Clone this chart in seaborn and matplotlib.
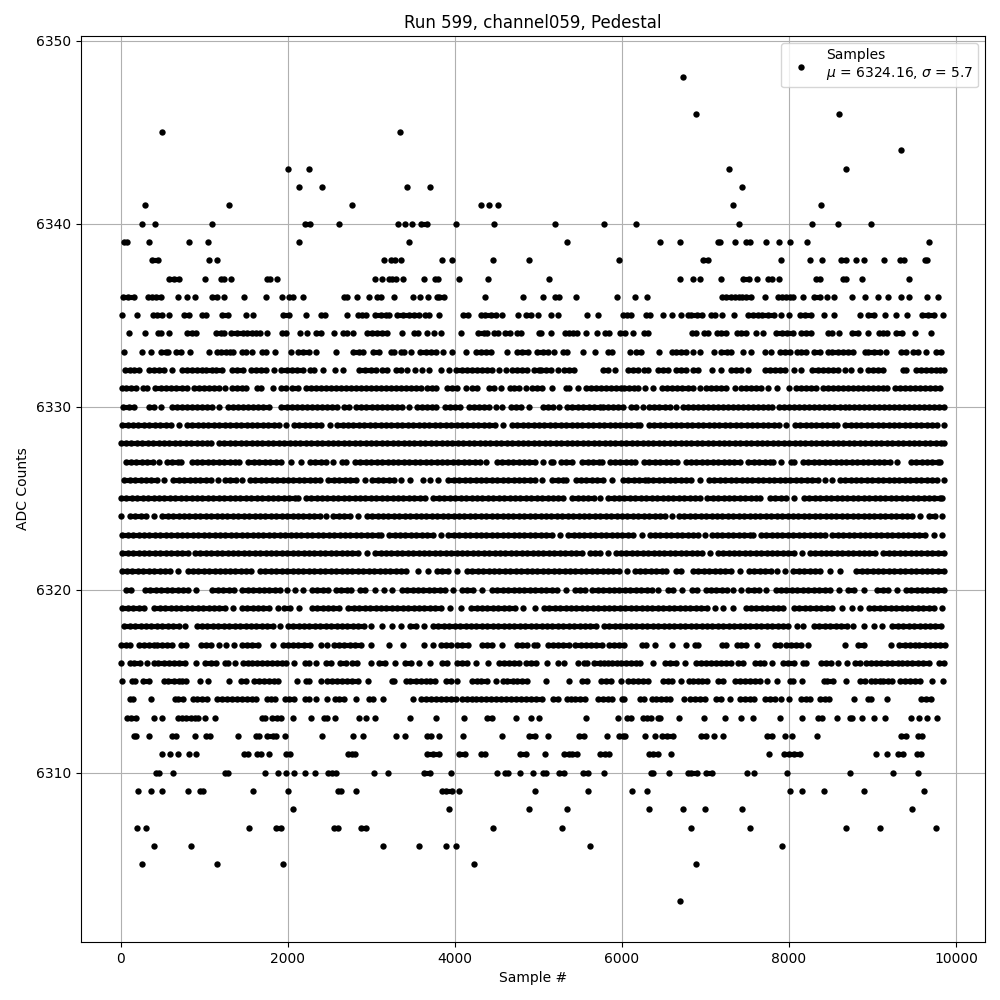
import pandas as pd
import matplotlib
matplotlib.use("Agg")
import matplotlib.pyplot as plt
import seaborn as sns

# sample numbers, one list per ADC level
s6348 = [6730]
s6346 = [6886, 8599]
s6345 = [499, 3349]
s6344 = [9341]
s6343 = [2008, 2259, 7281, 8683]
s6342 = [2140, 2415, 3433, 3709, 7437]
s6341 = [295, 1301, 2774, 4319, 4415, 4523, 7329, 8383]
s6340 = [259, 415, 1098, 2212, 2271, 2619, 3325, 3409, 3493, 3601, 3673, 4020, 4475, 5198, 5784, 6168, 7401, 8275, 8587, 8982]
s6339 = [44, 76, 343, 822, 1050, 2140, 3457, 5341, 6455, 6695, 7150, 7178, 7353, 7485, 7533, 7725, 7880, 8012, 8216, 9677]
s6338 = [371, 443, 1062, 1158, 3158, 3242, 3285, 3361, 3852, 3972, 4463, 4894, 5964, 6970, 7030, 7904, 8252, 8395, 8623, 8683, 8802, 8898, 9138, 9325, 9373, 9625, 9653]
s6337 = [583, 635, 703, 1014, 1206, 1242, 1325, 1756, 1792, 1876, 3042, 3134, 3218, 3253, 3301, 3385, 3637, 3764, 3800, 4056, 4403, 5126, 6695, 6850, 6934, 7186, 7449, 7521, 7617, 7749, 7796, 7880, 8323, 8371, 8647, 8683, 8874, 9437]
s6336 = [28, 92, 164, 331, 379, 427, 487, 691, 798, 894, 1098, 1158, 1242, 1481, 1744, 1936, 2016, 2068, 2188, 2679, 2715, 2834, 2978, 3074, 3122, 3277, 3505, 3589, 3685, 3784, 3812, 3876, 4359, 4822, 5054, 5198, 5246, 5449, 5940, 6156, 6299, 7198, 7246, 7305, 7353, 7401, 7433, 7485, 7545, 7713, 7868, 7916, 7964, 8012, 8048, 8168, 8299, 8371, 8455, 8539, 8754, 8910, 9066, 9186, 9341, 9437, 9653, 9784]
s6335 = [20, 200, 391, 439, 499, 583, 762, 818, 978, 1026, 1218, 1289, 1505, 1589, 1948, 2020, 2224, 2403, 2447, 2707, 2846, 2894, 2942, 3050, 3114, 3174, 3214, 3313, 3385, 3453, 3513, 3573, 3649, 3697, 3816, 4100, 4156, 4315, 4363, 4431, 4491, 4571, 4762, 4850, 4914, 4994, 5150, 5234, 5581, 5713, 6012, 6060, 6108, 6291, 6339, 6491, 6599, 6711, 6790, 6826, 6898, 6958, 7070, 7110, 7198, 7337, 7509, 7569, 7629, 7677, 7749, 7820, 7904, 8000, 8132, 8192, 8263, 8419, 8539, 8850, 8946, 9014, 9150, 9285, 9413, 9593, 9665, 9737, 9844]
s6334 = [104, 295, 451, 483, 583, 798, 858, 898, 1146, 1198, 1238, 1325, 1397, 1469, 1517, 1569, 1617, 1669, 1756, 1936, 1976, 2152, 2235, 2335, 2403, 2559, 2667, 2707, 2786, 2954, 3014, 3074, 3134, 3194, 3373, 3517, 3565, 3673, 3757, 3832, 4076, 4283, 4351, 4391, 4471, 4519, 4603, 4663, 4750, 4798, 5010, 5030, 5150, 5317, 5365, 5413, 5461, 5573, 5701, 5796, 5852, 5984, 6040, 6132, 6263, 6311, 6838, 6886, 6982, 7030, 7138, 7190, 7250, 7377, 7425, 7485, 7609, 7689, 7844, 7916, 7976, 8048, 8144, 8200, 8259, 8467, 8515, 8599, 8754, 8826, 8946, 9078, 9126, 9174, 9285, 9357, 9509, 9701]
s6333 = [44, 259, 359, 487, 539, 571, 659, 719, 834, 1058, 1158, 1206, 1257, 1305, 1349, 1457, 1497, 1577, 1697, 1745, 1848, 2044, 2124, 2188, 2255, 2335, 2575, 2786, 2854, 2902, 3026, 3094, 3233, 3273, 3353, 3393, 3481, 3585, 3653, 3713, 3773, 3860, 3972, 4140, 4251, 4311, 4371, 4431, 4631, 4743, 4810, 4882, 4990, 5062, 5114, 5194, 5293, 5341, 5533, 5677, 5832, 5884, 6096, 6172, 6231, 6451, 6603, 6651, 6711, 6770, 6850, 6930, 7102, 7186, 7258, 7309, 7449, 7549, 7713, 7788, 7896, 7948, 8008, 8096, 8148, 8208, 8299, 8367, 8467, 8519, 8587, 8647, 8707, 8766, 8906, 8946, 9014, 9086, 9166, 9345, 9405, 9485, 9545, 9637, 9757, 9824]
s6332 = [52, 108, 160, 220, 339, 399, 459, 519, 611, 739, 798, 858, 918, 978, 1026, 1098, 1146, 1210, 1337, 1397, 1465, 1557, 1617, 1677, 1737, 1836, 1924, 1996, 2056, 2116, 2184, 2263, 2315, 2427, 2567, 2667, 2854, 2922, 2994, 3054, 3134, 3194, 3293, 3353, 3433, 3529, 3613, 3693, 3832, 3932, 4020, 4092, 4152, 4211, 4271, 4331, 4391, 4451, 4531, 4611, 4691, 4750, 4810, 4870, 4950, 5010, 5034, 5094, 5154, 5234, 5313, 5373, 5433, 5772, 5832, 5916, 6072, 6132, 6192, 6271, 6311, 6431, 6491, 6551, 6651, 6711, 6770, 6850, 6910, 7082, 7182, 7305, 7369, 7429, 7509, 7709, 7768, 7828, 7888, 7952, 8060, 8148, 8279, 8347, 8407, 8467, 8527, 8587, 8667, 8742, 8850, 8946, 9006, 9066, 9126, 9365, 9405, 9525, 9585, 9645, 9705, 9765, 9812, 9860]
s6331 = [12, 68, 128, 188, 271, 319, 411, 479, 539, 599, 659, 731, 790, 878, 938, 998, 1058, 1118, 1178, 1253, 1329, 1389, 1449, 1497, 1629, 1685, 1820, 1920, 1976, 2056, 2128, 2216, 2275, 2335, 2395, 2455, 2515, 2575, 2635, 2695, 2755, 2814, 2874, 2934, 2994, 3054, 3114, 3174, 3233, 3293, 3353, 3413, 3473, 3533, 3593, 3673, 3733, 3780, 3912, 3972, 4032, 4132, 4211, 4271, 4411, 4471, 4551, 4659, 4711, 4770, 4850, 4930, 4990, 5046, 5162, 5333, 5373, 5473, 5573, 5633, 5693, 5752, 5812, 5872, 5932, 5992, 6032, 6092, 6140, 6192, 6283, 6371, 6483, 6543, 6603, 6663, 6723, 6790, 6850, 6930, 7010, 7070, 7130, 7190, 7250, 7353, 7429, 7489, 7549, 7609, 7669, 7749, 7856, 7996, 8088, 8148, 8208, 8267, 8327, 8407, 8467, 8527, 8587, 8647, 8707, 8766, 8826, 8886, 8946, 9006, 9066, 9126, 9174, 9266, 9325, 9385, 9445, 9505, 9565, 9625, 9685, 9745, 9812]
s6330 = [28, 100, 160, 339, 399, 479, 611, 679, 739, 798, 858, 918, 978, 1038, 1098, 1178, 1289, 1349, 1409, 1469, 1529, 1589, 1649, 1709, 1776, 1924, 1996, 2056, 2116, 2176, 2235, 2295, 2355, 2415, 2475, 2535, 2595, 2675, 2735, 2822, 2882, 2942, 3014, 3074, 3134, 3194, 3253, 3313, 3373, 3453, 3553, 3613, 3673, 3733, 3780, 3884, 3944, 4004, 4064, 4172, 4232, 4291, 4351, 4411, 4491, 4571, 4671, 4731, 4790, 4890, 5054, 5114, 5174, 5253, 5341, 5401, 5473, 5541, 5613, 5673, 5733, 5772, 5832, 5900, 5952, 6020, 6112, 6172, 6251, 6331, 6391, 6451, 6511, 6571, 6651, 6730, 6790, 6850, 6910, 6970, 7030, 7090, 7150, 7210, 7270, 7329, 7389, 7449, 7509, 7569, 7629, 7689, 7749, 7800, 7880, 7940, 8000, 8060, 8120, 8180, 8240, 8299, 8359, 8419, 8479, 8539, 8607, 8667, 8719, 8778, 8838, 8898, 8958, 9018, 9078, 9138, 9198, 9257, 9317, 9377, 9437, 9497, 9557, 9617, 9677, 9737, 9796, 9856]
s6329 = [20, 85, 150, 215, 280, 345, 410, 475, 540, 605, 702, 793, 858, 923, 988, 1053, 1118, 1183, 1248, 1313, 1378, 1443, 1508, 1573, 1638, 1703, 1768, 1833, 1898, 1977, 2077, 2142, 2207, 2272, 2337, 2402, 2502, 2592, 2657, 2722, 2787, 2852, 2917, 2982, 3047, 3112, 3177, 3242, 3307, 3372, 3437, 3502, 3567, 3632, 3697, 3762, 3827, 3892, 3957, 4022, 4087, 4152, 4217, 4282, 4347, 4412, 4477, 4575, 4683, 4748, 4813, 4878, 4943, 5008, 5073, 5138, 5203, 5268, 5333, 5398, 5463, 5528, 5593, 5658, 5723, 5788, 5853, 5918, 5983, 6048, 6113, 6178, 6217, 6324, 6389, 6454, 6519, 6584, 6649, 6714, 6779, 6844, 6909, 6974, 7039, 7104, 7169, 7234, 7299, 7364, 7429, 7494, 7559, 7624, 7689, 7754, 7819, 7884, 7967, 8069, 8134, 8199, 8264, 8329, 8394, 8459, 8524, 8574, 8673, 8738, 8803, 8868, 8933, 8998, 9063, 9128, 9193, 9258, 9323, 9388, 9453, 9518, 9583, 9648, 9713, 9778, 9856]
s6328 = [0, 65, 130, 195, 260, 325, 390, 455, 520, 585, 650, 715, 780, 845, 910, 975, 1040, 1085, 1178, 1243, 1308, 1373, 1438, 1503, 1568, 1633, 1698, 1763, 1828, 1893, 1958, 2023, 2088, 2153, 2218, 2283, 2348, 2413, 2478, 2543, 2608, 2673, 2738, 2803, 2868, 2933, 2998, 3063, 3128, 3193, 3258, 3323, 3388, 3453, 3518, 3583, 3648, 3713, 3778, 3843, 3908, 3973, 4038, 4103, 4168, 4233, 4298, 4363, 4428, 4493, 4558, 4623, 4688, 4753, 4818, 4883, 4948, 5013, 5078, 5143, 5208, 5273, 5338, 5403, 5468, 5533, 5598, 5663, 5728, 5793, 5858, 5923, 5988, 6053, 6118, 6183, 6248, 6313, 6378, 6443, 6508, 6573, 6638, 6703, 6768, 6833, 6898, 6963, 7028, 7093, 7158, 7223, 7288, 7353, 7418, 7483, 7548, 7613, 7678, 7743, 7808, 7873, 7938, 8003, 8068, 8133, 8198, 8263, 8328, 8393, 8458, 8523, 8588, 8653, 8718, 8783, 8848, 8913, 8978, 9043, 9108, 9173, 9238, 9303, 9368, 9433, 9498, 9563, 9628, 9693, 9758, 9823, 9860]
s6327 = [61, 126, 191, 256, 321, 386, 466, 552, 617, 682, 726, 851, 916, 981, 1046, 1111, 1176, 1241, 1306, 1371, 1424, 1530, 1595, 1660, 1725, 1790, 1855, 1923, 2045, 2158, 2268, 2333, 2398, 2463, 2542, 2648, 2702, 2807, 2872, 2937, 3002, 3067, 3132, 3197, 3262, 3327, 3392, 3457, 3522, 3587, 3652, 3717, 3782, 3847, 3912, 3977, 4042, 4107, 4172, 4237, 4302, 4378, 4504, 4569, 4634, 4699, 4764, 4829, 4894, 4959, 5061, 5147, 5181, 5267, 5332, 5400, 5526, 5591, 5656, 5721, 5759, 5853, 5918, 5983, 6048, 6113, 6159, 6264, 6329, 6394, 6459, 6524, 6589, 6658, 6763, 6828, 6893, 6958, 7023, 7088, 7153, 7218, 7283, 7348, 7416, 7514, 7579, 7644, 7709, 7774, 7815, 7908, 8021, 8055, 8169, 8234, 8299, 8364, 8429, 8494, 8559, 8624, 8689, 8754, 8819, 8884, 8949, 9014, 9079, 9144, 9209, 9292, 9458, 9523, 9588, 9653, 9718, 9783, 9811]
s6326 = [45, 110, 175, 240, 305, 370, 435, 526, 632, 697, 762, 827, 892, 957, 1022, 1087, 1165, 1251, 1316, 1384, 1457, 1550, 1615, 1680, 1745, 1810, 1875, 1940, 2005, 2070, 2135, 2200, 2265, 2330, 2382, 2488, 2553, 2618, 2683, 2748, 2813, 2921, 3015, 3080, 3145, 3210, 3275, 3360, 3461, 3626, 3700, 3802, 3925, 3990, 4055, 4120, 4185, 4250, 4315, 4380, 4445, 4510, 4575, 4640, 4705, 4770, 4835, 4900, 4965, 5041, 5167, 5232, 5297, 5332, 5446, 5511, 5576, 5641, 5706, 5771, 5879, 6013, 6078, 6143, 6208, 6273, 6318, 6379, 6444, 6509, 6574, 6639, 6704, 6769, 6834, 6937, 7043, 7108, 7173, 7238, 7303, 7368, 7433, 7498, 7563, 7628, 7693, 7758, 7823, 7888, 7953, 8018, 8083, 8148, 8213, 8278, 8343, 8434, 8515, 8608, 8673, 8738, 8803, 8868, 8933, 8998, 9063, 9128, 9193, 9258, 9323, 9388, 9453, 9518, 9583, 9648, 9713, 9778, 9851]
s6325 = [5, 70, 135, 200, 265, 330, 395, 460, 525, 590, 655, 720, 785, 850, 915, 980, 1045, 1110, 1175, 1240, 1305, 1370, 1435, 1500, 1565, 1630, 1695, 1760, 1825, 1890, 1955, 2020, 2085, 2123, 2217, 2282, 2347, 2412, 2477, 2542, 2607, 2672, 2737, 2802, 2867, 2932, 2997, 3062, 3127, 3192, 3257, 3322, 3387, 3452, 3517, 3582, 3640, 3746, 3811, 3876, 3941, 4006, 4071, 4136, 4201, 4266, 4331, 4396, 4461, 4526, 4591, 4656, 4721, 4786, 4851, 4916, 4981, 5046, 5111, 5176, 5241, 5300, 5406, 5471, 5536, 5601, 5666, 5739, 5837, 5902, 5967, 6032, 6097, 6162, 6227, 6292, 6357, 6422, 6487, 6552, 6617, 6682, 6747, 6812, 6877, 6937, 7023, 7088, 7153, 7218, 7283, 7348, 7413, 7478, 7543, 7608, 7656, 7770, 7835, 7900, 7965, 8055, 8181, 8246, 8311, 8376, 8441, 8506, 8571, 8636, 8701, 8766, 8831, 8896, 8961, 9026, 9091, 9156, 9221, 9286, 9351, 9416, 9481, 9546, 9611, 9676, 9741, 9806, 9831]
s6324 = [0, 113, 178, 243, 308, 406, 500, 565, 630, 695, 760, 825, 890, 955, 1020, 1085, 1150, 1215, 1280, 1345, 1410, 1475, 1540, 1605, 1670, 1735, 1800, 1865, 1930, 1995, 2060, 2125, 2190, 2255, 2320, 2385, 2462, 2548, 2613, 2678, 2743, 2841, 2947, 3012, 3077, 3142, 3207, 3272, 3337, 3402, 3467, 3532, 3597, 3662, 3727, 3792, 3857, 3922, 3987, 4052, 4117, 4182, 4247, 4312, 4377, 4442, 4507, 4572, 4637, 4702, 4767, 4832, 4897, 4962, 5027, 5092, 5157, 5222, 5287, 5352, 5417, 5482, 5547, 5612, 5677, 5742, 5807, 5872, 5937, 6002, 6067, 6132, 6197, 6262, 6327, 6392, 6457, 6522, 6598, 6684, 6749, 6814, 6879, 6944, 7009, 7074, 7139, 7204, 7269, 7334, 7399, 7464, 7529, 7594, 7659, 7724, 7789, 7854, 7919, 7984, 8049, 8114, 8179, 8244, 8309, 8374, 8439, 8504, 8569, 8634, 8699, 8764, 8829, 8894, 8959, 9024, 9089, 9154, 9219, 9284, 9349, 9414, 9479, 9572, 9678, 9743, 9831]
s6323 = [21, 86, 151, 216, 281, 346, 411, 476, 541, 606, 671, 736, 801, 866, 931, 996, 1061, 1126, 1191, 1256, 1321, 1386, 1451, 1516, 1581, 1646, 1711, 1776, 1841, 1906, 1971, 2036, 2101, 2166, 2231, 2296, 2361, 2426, 2491, 2556, 2621, 2686, 2751, 2816, 2881, 2946, 3011, 3076, 3121, 3215, 3280, 3345, 3410, 3475, 3540, 3605, 3670, 3735, 3839, 3925, 3990, 4055, 4120, 4185, 4250, 4315, 4380, 4445, 4510, 4575, 4640, 4705, 4770, 4835, 4900, 4965, 5030, 5095, 5160, 5260, 5358, 5423, 5488, 5553, 5618, 5683, 5748, 5813, 5878, 5943, 6008, 6073, 6138, 6238, 6332, 6397, 6462, 6527, 6592, 6657, 6722, 6787, 6852, 6917, 6997, 7075, 7140, 7205, 7270, 7335, 7400, 7465, 7530, 7576, 7662, 7727, 7792, 7857, 7922, 7987, 8052, 8117, 8182, 8247, 8312, 8377, 8434, 8520, 8585, 8650, 8715, 8780, 8845, 8910, 8975, 9040, 9105, 9170, 9235, 9300, 9365, 9430, 9495, 9560, 9632, 9738, 9831]
s6322 = [21, 86, 151, 216, 281, 346, 411, 476, 541, 606, 671, 736, 805, 891, 956, 1021, 1086, 1151, 1216, 1281, 1346, 1411, 1476, 1541, 1606, 1671, 1736, 1801, 1866, 1931, 1996, 2061, 2126, 2191, 2256, 2321, 2386, 2451, 2516, 2581, 2646, 2711, 2776, 2841, 2949, 3047, 3112, 3177, 3242, 3307, 3372, 3437, 3502, 3567, 3632, 3697, 3762, 3827, 3892, 3957, 4022, 4087, 4152, 4217, 4282, 4347, 4412, 4477, 4542, 4607, 4672, 4737, 4802, 4867, 4932, 4997, 5062, 5127, 5192, 5257, 5322, 5387, 5452, 5520, 5614, 5679, 5744, 5839, 5925, 5990, 6055, 6120, 6185, 6250, 6315, 6380, 6445, 6510, 6575, 6640, 6705, 6770, 6835, 6900, 6965, 7057, 7147, 7212, 7277, 7342, 7407, 7472, 7537, 7602, 7667, 7732, 7797, 7862, 7927, 7992, 8057, 8155, 8249, 8314, 8379, 8444, 8509, 8574, 8639, 8704, 8769, 8834, 8899, 8964, 9033, 9131, 9196, 9261, 9326, 9391, 9456, 9521, 9586, 9651, 9716, 9781, 9851]
s6321 = [13, 78, 143, 208, 273, 338, 403, 468, 533, 598, 686, 803, 868, 933, 998, 1063, 1128, 1185, 1250, 1310, 1375, 1440, 1505, 1556, 1670, 1735, 1800, 1865, 1930, 1995, 2060, 2125, 2190, 2255, 2320, 2385, 2450, 2515, 2580, 2645, 2710, 2775, 2840, 2905, 2970, 3035, 3100, 3165, 3230, 3295, 3360, 3420, 3566, 3680, 3785, 3850, 3915, 4027, 4145, 4210, 4275, 4340, 4405, 4470, 4535, 4600, 4665, 4730, 4795, 4860, 4925, 4990, 5055, 5120, 5185, 5250, 5315, 5380, 5445, 5510, 5575, 5640, 5705, 5770, 5835, 5900, 5965, 6059, 6153, 6218, 6283, 6348, 6413, 6478, 6530, 6652, 6706, 6851, 6916, 6981, 7046, 7111, 7176, 7241, 7306, 7416, 7522, 7587, 7652, 7717, 7782, 7855, 7956, 8053, 8118, 8183, 8248, 8313, 8378, 8494, 8607, 8807, 8872, 8937, 9002, 9067, 9132, 9197, 9262, 9327, 9392, 9457, 9522, 9587, 9652, 9717, 9782, 9851]
s6320 = [61, 127, 292, 357, 422, 487, 552, 617, 682, 747, 812, 905, 1099, 1164, 1229, 1294, 1364, 1458, 1523, 1588, 1653, 1718, 1783, 1848, 1903, 1996, 2089, 2182, 2288, 2353, 2418, 2482, 2576, 2641, 2706, 2761, 2867, 2932, 3041, 3154, 3253, 3366, 3431, 3496, 3561, 3626, 3691, 3756, 3821, 3886, 3979, 4085, 4150, 4218, 4331, 4444, 4509, 4574, 4639, 4704, 4769, 4834, 4899, 4964, 5029, 5094, 5159, 5224, 5332, 5438, 5503, 5560, 5646, 5711, 5776, 5841, 5906, 5971, 6036, 6101, 6166, 6231, 6296, 6361, 6438, 6552, 6617, 6717, 6843, 6897, 7003, 7068, 7133, 7198, 7263, 7336, 7425, 7514, 7579, 7644, 7727, 7841, 7906, 7971, 8036, 8101, 8166, 8231, 8296, 8361, 8426, 8491, 8594, 8712, 8777, 8893, 9059, 9124, 9189, 9292, 9398, 9463, 9528, 9593, 9658, 9723, 9788, 9851]
s6319 = [21, 86, 151, 216, 286, 404, 469, 534, 599, 664, 729, 794, 859, 924, 989, 1054, 1119, 1184, 1249, 1344, 1450, 1515, 1580, 1645, 1710, 1775, 1883, 1960, 2024, 2136, 2288, 2353, 2418, 2483, 2548, 2614, 2728, 2793, 2858, 2923, 2988, 3053, 3118, 3183, 3248, 3313, 3378, 3443, 3508, 3573, 3638, 3703, 3768, 3833, 3939, 4072, 4197, 4262, 4327, 4392, 4457, 4522, 4587, 4652, 4717, 4817, 4965, 5067, 5132, 5197, 5262, 5327, 5392, 5457, 5522, 5587, 5652, 5717, 5782, 5847, 5912, 5977, 6042, 6107, 6172, 6237, 6302, 6367, 6432, 6497, 6562, 6627, 6692, 6757, 6822, 6887, 6952, 7017, 7117, 7210, 7335, 7482, 7547, 7612, 7677, 7742, 7807, 7872, 7935, 8061, 8126, 8191, 8256, 8321, 8386, 8451, 8516, 8634, 8752, 8845, 8959, 9024, 9089, 9154, 9219, 9284, 9349, 9414, 9479, 9544, 9609, 9674, 9739, 9831]
s6318 = [45, 110, 175, 240, 305, 370, 435, 500, 565, 630, 695, 777, 911, 976, 1041, 1106, 1171, 1236, 1301, 1366, 1431, 1496, 1561, 1626, 1691, 1756, 1821, 1911, 2001, 2066, 2131, 2196, 2261, 2326, 2391, 2456, 2521, 2586, 2651, 2716, 2781, 2846, 2911, 3001, 3134, 3247, 3360, 3466, 3532, 3638, 3740, 3805, 3870, 3935, 4000, 4065, 4130, 4195, 4260, 4325, 4390, 4455, 4520, 4585, 4650, 4715, 4780, 4845, 4910, 4975, 5040, 5105, 5170, 5235, 5300, 5365, 5430, 5495, 5560, 5625, 5688, 5785, 5850, 5915, 5980, 6045, 6110, 6175, 6240, 6305, 6370, 6435, 6500, 6565, 6630, 6695, 6760, 6825, 6890, 6955, 7020, 7085, 7150, 7215, 7280, 7345, 7410, 7475, 7540, 7605, 7670, 7735, 7800, 7865, 7930, 7995, 8095, 8168, 8300, 8365, 8430, 8495, 8560, 8625, 8690, 8773, 8898, 9019, 9113, 9239, 9304, 9369, 9434, 9499, 9564, 9629, 9694, 9751, 9816]
s6317 = [0, 68, 108, 220, 279, 339, 399, 431, 499, 559, 619, 719, 778, 958, 1018, 1078, 1178, 1257, 1361, 1457, 1517, 1577, 1649, 1828, 1948, 2008, 2068, 2128, 2196, 2263, 2395, 2475, 2555, 2615, 2675, 2747, 2802, 2874, 2994, 3218, 3385, 3637, 3745, 3832, 3892, 3952, 4032, 4092, 4160, 4331, 4391, 4451, 4563, 4750, 4810, 4870, 4950, 4990, 5114, 5174, 5234, 5293, 5365, 5441, 5513, 5573, 5633, 5693, 5765, 5844, 5904, 5972, 6024, 6243, 6291, 6395, 6599, 6766, 6870, 6910, 7202, 7250, 7377, 7429, 7489, 7617, 7828, 7888, 7968, 8028, 8088, 8148, 8228, 8671, 8826, 8894, 9222, 9317, 9385, 9445, 9505, 9557, 9625, 9685, 9745, 9804, 9864]
s6316 = [0, 108, 160, 228, 319, 399, 451, 519, 579, 639, 699, 770, 906, 1006, 1078, 1138, 1250, 1289, 1369, 1469, 1529, 1577, 1629, 1697, 1756, 1816, 1876, 1928, 1984, 2080, 2208, 2255, 2335, 2455, 2515, 2631, 2695, 2775, 2834, 3002, 3094, 3166, 3289, 3409, 3481, 3573, 3705, 3852, 3912, 4032, 4092, 4144, 4259, 4403, 4531, 4591, 4651, 4711, 4770, 4850, 4910, 4970, 5102, 5234, 5313, 5473, 5553, 5581, 5673, 5733, 5792, 5832, 5884, 5940, 5992, 6052, 6112, 6172, 6220, 6371, 6511, 6579, 6643, 6755, 6890, 6950, 7010, 7070, 7130, 7190, 7250, 7309, 7389, 7449, 7589, 7649, 7701, 7800, 7928, 7988, 8060, 8168, 8208, 8387, 8447, 8507, 8587, 8695, 8786, 8846, 8926, 8986, 9046, 9106, 9174, 9238, 9305, 9357, 9417, 9473, 9545, 9605, 9673, 9797, 9856]
s6315 = [20, 140, 168, 267, 339, 519, 567, 639, 699, 739, 786, 954, 1050, 1301, 1437, 1497, 1601, 1657, 1717, 1776, 1836, 1888, 2116, 2224, 2255, 2395, 2475, 2535, 2595, 2655, 2715, 2775, 2846, 2966, 3245, 3273, 3413, 3461, 3533, 3593, 3653, 3705, 3764, 3892, 3952, 4032, 4204, 4263, 4319, 4391, 4499, 4579, 4631, 4703, 4750, 4810, 4862, 5094, 5373, 5525, 5581, 5752, 5812, 5872, 5992, 6080, 6132, 6192, 6251, 6311, 6491, 6551, 6603, 6703, 6802, 6858, 6910, 6958, 7018, 7150, 7210, 7349, 7409, 7469, 7529, 7589, 7649, 7737, 7856, 8008, 8048, 8156, 8419, 8455, 8527, 8687, 8846, 8906, 8986, 9034, 9086, 9126, 9186, 9238, 9325, 9385, 9445, 9505, 9565, 9713, 9848]
s6314 = [108, 148, 367, 651, 691, 751, 866, 918, 978, 1038, 1158, 1218, 1277, 1337, 1397, 1457, 1517, 1577, 1617, 1756, 1796, 1852, 1964, 2016, 2080, 2208, 2255, 2343, 2471, 2567, 2615, 2679, 2822, 2978, 3026, 3146, 3505, 3593, 3653, 3713, 3773, 3832, 3892, 3952, 4012, 4092, 4152, 4204, 4259, 4319, 4371, 4431, 4491, 4551, 4611, 4671, 4731, 4790, 4850, 4918, 4978, 5046, 5174, 5234, 5341, 5393, 5445, 5505, 5565, 5713, 5772, 5832, 5880, 6004, 6032, 6212, 6271, 6363, 6411, 6471, 6531, 6571, 6743, 6818, 6878, 6938, 6998, 7122, 7190, 7293, 7417, 7477, 7529, 7577, 7713, 7776, 7828, 7908, 8000, 8144, 8208, 8247, 8375, 8427, 8479, 8778, 8946, 8986, 9170, 9585, 9645, 9701]
s6313 = [80, 128, 188, 403, 499, 691, 739, 786, 838, 890, 930, 1014, 1134, 1697, 1725, 1816, 1876, 1916, 2068, 2283, 2435, 2475, 2571, 2858, 2934, 3050, 3469, 3780, 4116, 4391, 4451, 4739, 4914, 5006, 5569, 5952, 6060, 6108, 6251, 6299, 6351, 6431, 6459, 6683, 6982, 7234, 7425, 7569, 7892, 8156, 8347, 8395, 8575, 8735, 8759, 8874, 9018, 9150, 9461, 9557, 9653, 9777]
s6312 = [160, 188, 343, 619, 667, 890, 1026, 1066, 1409, 1617, 1657, 1756, 1828, 1864, 1972, 2415, 2786, 2906, 3301, 3409, 3673, 3721, 3816, 4104, 4571, 4894, 4966, 5114, 5493, 5545, 5820, 5972, 6012, 6044, 6275, 6395, 6479, 6539, 6611, 6946, 7002, 7102, 7210, 7737, 7796, 7952, 8036, 8335, 9345, 9405, 9545, 9597]
s6311 = [499, 587, 691, 822, 906, 1481, 1529, 1637, 1677, 1780, 1984, 2024, 2727, 2775, 2806, 3673, 3745, 3816, 4056, 4128, 4311, 4359, 4786, 4858, 5078, 5313, 5365, 5405, 5461, 5737, 5804, 5852, 6331, 6371, 6435, 6587, 7760, 7940, 8000, 8060, 8132, 9046, 9174, 9305, 9365, 9537, 9585]
s6310 = [427, 459, 631, 1250, 1281, 1733, 1888, 1984, 2080, 2212, 2331, 2487, 2535, 2583, 3030, 3206, 3637, 3709, 3960, 4511, 4603, 4643, 4786, 4934, 5054, 5094, 5246, 5305, 5533, 5597, 5784, 6347, 6379, 6563, 6790, 6826, 6898, 7006, 7078, 7497, 7581, 7976, 8730, 9246, 9545]
s6309 = [212, 367, 499, 810, 954, 990, 1589, 2008, 2607, 2643, 2822, 3852, 3892, 3964, 4056, 4958, 5593, 6120, 6299, 8012, 8156, 8419, 8898, 9617]
s6308 = [2068, 3936, 4894, 5345, 6323, 6730, 6994, 7437, 9473]
s6307 = [200, 307, 1541, 1864, 1924, 2559, 2607, 2882, 2942, 4463, 5281, 6826, 7533, 8683, 9090, 9760]
s6306 = [403, 846, 3146, 3577, 3900, 4020, 5617, 7916]
s6305 = [259, 1158, 1948, 4236, 6886]
s6303 = [6695]

level_names = [6303, 6305, 6306, 6307, 6308, 6309, 6310, 6311, 6312, 6313, 6314, 6315, 6316, 6317, 6318,
               6319, 6320, 6321, 6322, 6323, 6324, 6325, 6326, 6327, 6328, 6329, 6330, 6331, 6332, 6333,
               6334, 6335, 6336, 6337, 6338, 6339, 6340, 6341, 6342, 6343, 6344, 6345, 6346, 6348]
level_samples = [s6303, s6305, s6306, s6307, s6308, s6309, s6310, s6311, s6312, s6313, s6314, s6315, s6316, s6317, s6318,
                 s6319, s6320, s6321, s6322, s6323, s6324, s6325, s6326, s6327, s6328, s6329, s6330, s6331, s6332, s6333,
                 s6334, s6335, s6336, s6337, s6338, s6339, s6340, s6341, s6342, s6343, s6344, s6345, s6346, s6348]

rows = []
for level, samples in zip(level_names, level_samples):
    for s in samples:
        rows.append((s, level))
df = pd.DataFrame(rows, columns=["sample", "adc"])

fig, ax = plt.subplots(figsize=(10, 10), dpi=100)

# neighbouring dots on a level merge into a bar in the picture
for level, samples in zip(level_names, level_samples):
    for a, b in zip(samples[:-1], samples[1:]):
        if b - a <= 72:
            ax.plot([a, b], [level, level], color="black", lw=3.7, solid_capstyle="butt", zorder=3)

sns.scatterplot(data=df, x="sample", y="adc", color="black", s=21, linewidth=0, ax=ax,
                label="Samples\n$\\mu$ = 6324.16, $\\sigma$ = 5.7", zorder=3)
ax.set_xlim(-479, 10347)
ax.set_ylim(6300.75, 6350.25)
ax.ticklabel_format(useOffset=False, style="plain", axis="y")
ax.grid(True)
ax.set_axisbelow(True)
ax.set_xlabel("Sample #")
ax.set_ylabel("ADC Counts")
ax.set_title("Run 599, channel059, Pedestal")
ax.legend(loc="upper right")
fig.subplots_adjust(left=0.0805, right=0.985, top=0.964, bottom=0.058)
fig.savefig("out.png", dpi=100)
